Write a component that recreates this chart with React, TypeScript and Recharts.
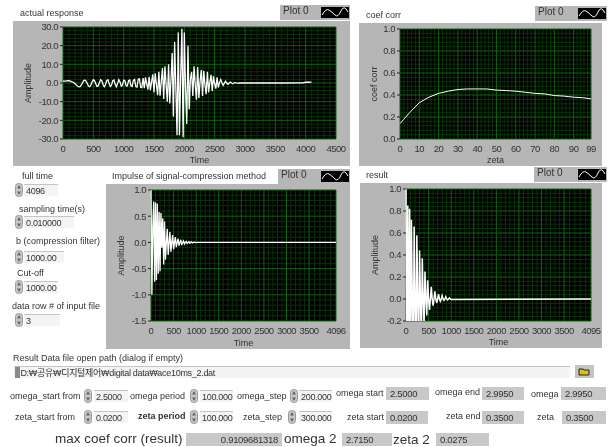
import React from "react";
import { LineChart, Line, XAxis, YAxis, CartesianGrid } from "recharts";

const FONT = "'Liberation Sans', 'Noto Sans CJK KR', sans-serif";
const PANEL_GRAY = "#b6b6b6";
const TEXT = "#333";

// sampled every 20 time units up to 2880, then a sparse flat tail
const responseStep = 20;
const responseAmp = [
  1, 1, 1, 1.1, 1.2, 1.2, 1, 0.8, 0.5, 0.1, -0.4, -1, -1.6, -2.1, -2, -1.2, 0, 1.2, 1.6, 1, -0.3, -1.6, -2, -1,
  0.6, 1.7, 1.2, -0.4, -1.8, -1.6, 0.2, 1.7, 1.2, -0.8, -2, -0.9, 1.2, 1.7, -0.1, -1.9, -1.1, 1.2, 1.6, -0.7, -2,
  -0.2, 1.8, 0.6, -1.7, -1.1, 1.5, 1.2, -1.4, -1.6, 1.2, 1.6, -1.5, -1.9, 1.4, 1.9, -1.9, -2.2, 1.9, 2.3, -2.3,
  -2.5,
  2.6, -2.8, 3, -0.5,
  -3.5, 3.3, -3.8, 0.6,
  4.6, -5, 5.2, -0.8,
  -6.5, 6, -6.8, 1,
  8, -8.5, 9, -1,
  -10, 10, -11, 2,
  16, -18, 22, -3,
  -28, 27, -28, 4,
  29, -29, 27, -3,
  -22, 20, -14, 2,
  6, -7, 9, -1,
  -9, 8.5, -8, 1,
  7, -7, 6.5, -1,
  -6, 6, -5, 0.5,
  4.4, -4.4, 3.6, -0.4,
  -3, 3, -2.4, 0.2,
  1.8, 0.1, -1.3, -0.1, 1, 0, -0.7, 0, 0.5, 0, -0.4, 0, 0.3, 0, -0.2,
];
const responseTailTime = [2900, 3200, 3600, 3950, 4000, 4050, 4096];
const responseTailAmp = [0, 0, 0, 0.1, 0.4, 0.4, 0.5];

const zetaValues = [0, 2, 5, 10, 15, 20, 25, 30, 35, 40, 45, 50, 55, 60, 65, 70, 75, 80, 85, 90, 95, 99];
const coefValues = [
  0.14, 0.18, 0.24, 0.33, 0.38, 0.415, 0.435, 0.45, 0.455, 0.455, 0.455, 0.445, 0.44, 0.435, 0.425, 0.415, 0.41,
  0.395, 0.39, 0.38, 0.375, 0.365,
];

const impulseStep = 20;
const impulseAmp = [
  1, -1, 0.3, 0.78, -0.75, 0.76, -0.72, 0.74, -0.6, 0.58, -0.55, 0.56, -0.1, 0.46, -0.42, 0.4, -0.33, 0, 0.26, -0.24,
  0, 0.2, -0.18, 0, 0.14, -0.13, 0, 0.1, -0.09, 0, 0.07, -0.06, 0, 0.05, -0.05, 0, 0.03, -0.03, 0, 0.02, -0.02, 0,
  0.015, -0.015, 0, 0.01, -0.01, 0, 0.005, -0.005, 0,
];

const resultStep = 20;
const resultAmp = [
  1, -0.5, 0.85, -0.8, 0.82, -0.7, 0.72, 0, -0.7, 0.66, 0, -0.6, 0.58, 0, -0.5, 0.44, 0, -0.4, 0.37, 0, -0.24, 0.25,
  0, -0.15, 0.17, 0, -0.1, 0, 0.11, 0, -0.06, 0, 0.07, 0, -0.035, 0, 0.045, 0, -0.02, 0, 0.03, 0, -0.012, 0,
  0.02, 0, -0.008, 0, 0.01, 0, -0.005,
];

const responseTicksX = [0, 500, 1000, 1500, 2000, 2500, 3000, 3500, 4000, 4500];
const responseTicksY = [30, 20, 10, 0, -10, -20, -30];
const coefTicksX = [0, 10, 20, 30, 40, 50, 60, 70, 80, 90, 99];
const coefTicksY = [1, 0.8, 0.6, 0.4, 0.2, 0];
const impulseTicksX = [0, 500, 1000, 1500, 2000, 2500, 3000, 3500, 4096];
const impulseTicksY = [1, 0.5, 0, -0.5, -1, -1.5];
const resultTicksX = [0, 500, 1000, 1500, 2000, 2500, 3000, 3500, 4095];
const resultTicksY = [1, 0.8, 0.6, 0.4, 0.2, 0, -0.2];

const responseData = [
  ...responseAmp.map((a, i) => ({ x: i * responseStep, y: a })),
  ...responseTailTime.map((t, i) => ({ x: t, y: responseTailAmp[i] })),
];
const coefData = zetaValues.map((z, i) => ({ x: z, y: coefValues[i] }));
const impulseData = [...impulseAmp.map((a, i) => ({ x: i * impulseStep, y: a })), { x: 4096, y: 0 }];
const resultData = [...resultAmp.map((a, i) => ({ x: i * resultStep, y: a })), { x: 4095, y: 0 }];

// minor grid: n divisions inside each pair of major values
function minors(major: number[], n: number) {
  const out: number[] = [];
  const s = [...major].sort((a, b) => a - b);
  for (let i = 0; i < s.length - 1; i++) {
    for (let k = 1; k < n; k++) out.push(s[i] + ((s[i + 1] - s[i]) * k) / n);
  }
  return out;
}

const tickStyle = { fontSize: 9.5, fill: TEXT, fontFamily: FONT, letterSpacing: -0.5 };

function Graph({ box, plot, data, xDomain, yDomain, xTicks, yTicks, xName, yName, yFormat, lineWidth = 1.3 }: any) {
  return (
    <div style={{ position: "absolute", left: box[0], top: box[1], width: box[2], height: box[3], background: PANEL_GRAY }}>
      <LineChart
        width={box[2]}
        height={box[3]}
        data={data}
        margin={{ top: plot[1] - box[1], right: box[0] + box[2] - plot[2], left: 0, bottom: 0 }}
      >
        <CartesianGrid
          fill="#000"
          fillOpacity={1}
          stroke="#073307"
          strokeWidth={1}
          horizontalValues={minors(yTicks, 5)}
          verticalValues={minors(xTicks, 5)}
        />
        <CartesianGrid fill="none" stroke="#0c660c" strokeWidth={1} horizontalValues={yTicks} verticalValues={xTicks} />
        <XAxis
          type="number"
          dataKey="x"
          domain={xDomain}
          ticks={xTicks}
          interval={0}
          height={box[1] + box[3] - plot[3]}
          axisLine={false}
          tickLine={false}
          tickMargin={0}
          tick={tickStyle}
          label={{ value: xName, position: "insideBottom", offset: 3, fontSize: 9, fill: TEXT, fontFamily: FONT }}
        />
        <YAxis
          type="number"
          dataKey="y"
          domain={yDomain}
          ticks={yTicks}
          interval={0}
          allowDataOverflow
          width={plot[0] - box[0]}
          axisLine={false}
          tickSize={3}
          tickLine={{ stroke: "#222" }}
          tickFormatter={yFormat}
          tick={tickStyle}
          label={{
            value: yName,
            angle: -90,
            position: "insideLeft",
            offset: 15,
            style: { textAnchor: "middle" },
            fontSize: 9,
            fill: TEXT,
            fontFamily: FONT,
          }}
        />
        <Line type="linear" dataKey="y" stroke="#fff" strokeWidth={lineWidth} dot={false} isAnimationActive={false} />
      </LineChart>
    </div>
  );
}

function Txt({ x, y, size = 9, bold, children }: any) {
  return (
    <div
      style={{
        position: "absolute",
        left: x,
        top: y - size * 0.6,
        fontSize: size,
        lineHeight: `${size * 1.2}px`,
        fontFamily: FONT,
        color: TEXT,
        whiteSpace: "nowrap",
        fontWeight: bold ? 600 : 400,
      }}
    >
      {children}
    </div>
  );
}

function Spinner({ x, y }: any) {
  return (
    <svg style={{ position: "absolute", left: x, top: y - 7 }} width={8} height={14}>
      <rect x={0.5} y={0.5} width={7} height={13} rx={3} fill="#c8c8c8" stroke="#9a9a9a" />
      <path d="M4 2 L6 5.5 L2 5.5 Z M4 12 L6 8.5 L2 8.5 Z" fill="#666" />
    </svg>
  );
}

function Input({ x, y, w, children }: any) {
  return (
    <div
      style={{
        position: "absolute",
        left: x,
        top: y - 6,
        width: w,
        height: 12,
        background: "#f4f4f4",
        borderTop: "1px solid #c4c4c4",
        fontSize: 9,
        letterSpacing: -0.3,
        lineHeight: "12px",
        fontFamily: FONT,
        color: TEXT,
        paddingLeft: 2,
        boxSizing: "border-box",
        whiteSpace: "nowrap",
      }}
    >
      {children}
    </div>
  );
}

function Readout({ x, y, w, h = 13, align = "left", children }: any) {
  return (
    <div
      style={{
        position: "absolute",
        left: x,
        top: y - h / 2,
        width: w,
        height: h,
        background: "#c8c8c8",
        fontSize: 9.5,
        letterSpacing: -0.3,
        lineHeight: `${h}px`,
        fontFamily: FONT,
        color: TEXT,
        textAlign: align,
        padding: "0 4px",
        boxSizing: "border-box",
      }}
    >
      {children}
    </div>
  );
}

function PlotLegend({ x, y, w }: any) {
  return (
    <div style={{ position: "absolute", left: x, top: y, width: w, height: 15, background: PANEL_GRAY }}>
      <Txt x={3} y={6} size={10}>
        Plot 0
      </Txt>
      <svg style={{ position: "absolute", right: 1, top: 2 }} width={28} height={11}>
        <rect width={28} height={11} fill="#000" />
        <path d="M1 8 Q5 1 8 3 T14 8 T20 4 T27 5" fill="none" stroke="#fff" strokeWidth={1} />
      </svg>
    </div>
  );
}

const fmt1 = (v: number) => v.toFixed(1);

export default function App() {
  return (
    <div
      style={{
        position: "fixed",
        left: 0,
        top: 0,
        width: 608,
        height: 447,
        background: "#fff",
        overflow: "hidden",
        filter: "blur(0.55px)",
      }}
    >
      <Graph
        box={[13, 21, 337, 145]}
        plot={[63, 27, 336, 139]}
        data={responseData}
        xDomain={[0, 4500]}
        yDomain={[-30, 30]}
        xTicks={responseTicksX}
        yTicks={responseTicksY}
        xName="Time"
        yName="Amplitude"
        yFormat={fmt1}
      />
      <Graph
        box={[359, 23, 243, 143]}
        plot={[400, 29, 591, 139]}
        data={coefData}
        xDomain={[0, 99]}
        yDomain={[0, 1]}
        xTicks={coefTicksX}
        yTicks={coefTicksY}
        xName="zeta"
        yName="coef corr"
        yFormat={fmt1}
        lineWidth={1}
      />
      <Graph
        box={[106, 184, 244, 165]}
        plot={[151, 190, 336, 321]}
        data={impulseData}
        xDomain={[0, 4096]}
        yDomain={[-1.5, 1]}
        xTicks={impulseTicksX}
        yTicks={impulseTicksY}
        xName="Time"
        yName="Amplitude"
        yFormat={fmt1}
      />
      <Graph
        box={[360, 183, 242, 165]}
        plot={[406, 189, 591, 321]}
        data={resultData}
        xDomain={[0, 4095]}
        yDomain={[-0.2, 1]}
        xTicks={resultTicksX}
        yTicks={resultTicksY}
        xName="Time"
        yName="Amplitude"
        yFormat={fmt1}
        lineWidth={1.5}
      />

      <Txt x={20} y={13}>actual response</Txt>
      <Txt x={366} y={15}>coef corr</Txt>
      <Txt x={112} y={176}>Impulse of signal-compression method</Txt>
      <Txt x={366} y={175}>result</Txt>
      <PlotLegend x={280} y={5} w={70} />
      <PlotLegend x={535} y={6} w={72} />
      <PlotLegend x={278} y={169} w={72} />
      <PlotLegend x={534} y={167} w={73} />

      <Txt x={22} y={176}>full time</Txt>
      <Spinner x={15} y={190} />
      <Input x={24} y={190} w={34}>4096</Input>
      <Txt x={19} y={209}>sampling time(s)</Txt>
      <Spinner x={15} y={222} />
      <Input x={24} y={222} w={50}>0.010000</Input>
      <Txt x={16} y={241}>b (compression filter)</Txt>
      <Spinner x={15} y={257} />
      <Input x={24} y={257} w={40}>1000.00</Input>
      <Txt x={17} y={273}>Cut-off</Txt>
      <Spinner x={15} y={287} />
      <Input x={24} y={287} w={34}>1000.00</Input>
      <Txt x={12} y={306}>data row # of input file</Txt>
      <Spinner x={15} y={320} />
      <Input x={24} y={320} w={36}>3</Input>

      <Txt x={13} y={358}>Result Data file open path (dialog if empty)</Txt>
      <Input x={14} y={372} w={556}>&nbsp;&nbsp;D:₩공유₩디지털제어₩digital data₩ace10ms_2.dat</Input>
      <div style={{ position: "absolute", left: 15, top: 367, width: 5, height: 11, background: "#8a8a8a" }} />
      <svg style={{ position: "absolute", left: 575, top: 365 }} width={19} height={13}>
        <rect width={19} height={13} fill="#c4c4c4" />
        <path d="M4 4 H8 L9 5 H14 V10 H4 Z" fill="#d8c020" stroke="#222" strokeWidth={1} />
      </svg>

      <Txt x={10} y={396}>omega_start from</Txt>
      <Spinner x={84} y={396} />
      <Input x={94} y={396} w={34}>2.5000</Input>
      <Txt x={130} y={396}>omega period</Txt>
      <Spinner x={190} y={396} />
      <Input x={200} y={396} w={33}>100.000</Input>
      <Txt x={237} y={396}>omega_step</Txt>
      <Spinner x={290} y={396} />
      <Input x={299} y={396} w={33}>200.000</Input>
      <Txt x={336} y={393}>omega start</Txt>
      <Readout x={386} y={393} w={43}>2.5000</Readout>
      <Txt x={435} y={392}>omega end</Txt>
      <Readout x={482} y={393} w={42}>2.9950</Readout>
      <Txt x={531} y={394}>omega</Txt>
      <Readout x={561} y={393} w={45}>2.9950</Readout>

      <Txt x={15} y={417}>zeta_start from</Txt>
      <Spinner x={84} y={417} />
      <Input x={94} y={417} w={34}>0.0200</Input>
      <Txt x={138} y={416} bold>zeta period</Txt>
      <Spinner x={190} y={417} />
      <Input x={200} y={417} w={33}>100.000</Input>
      <Txt x={243} y={417}>zeta_step</Txt>
      <Spinner x={288} y={417} />
      <Input x={299} y={417} w={33}>300.000</Input>
      <Txt x={347} y={417}>zeta start</Txt>
      <Readout x={386} y={417} w={42}>0.0200</Readout>
      <Txt x={446} y={416}>zeta end</Txt>
      <Readout x={482} y={417} w={42}>0.3500</Readout>
      <Txt x={537} y={417}>zeta</Txt>
      <Readout x={562} y={417} w={44}>0.3500</Readout>

      <Txt x={55} y={439} size={13.5}>max coef corr (result)</Txt>
      <Readout x={186} y={439} w={96} align="right">0.9109681318</Readout>
      <Txt x={284} y={439} size={13.5}>omega 2</Txt>
      <Readout x={342} y={439} w={50}>2.7150</Readout>
      <Txt x={393} y={440} size={13.5}>zeta 2</Txt>
      <Readout x={436} y={439} w={53}>0.0275</Readout>
    </div>
  );
}
